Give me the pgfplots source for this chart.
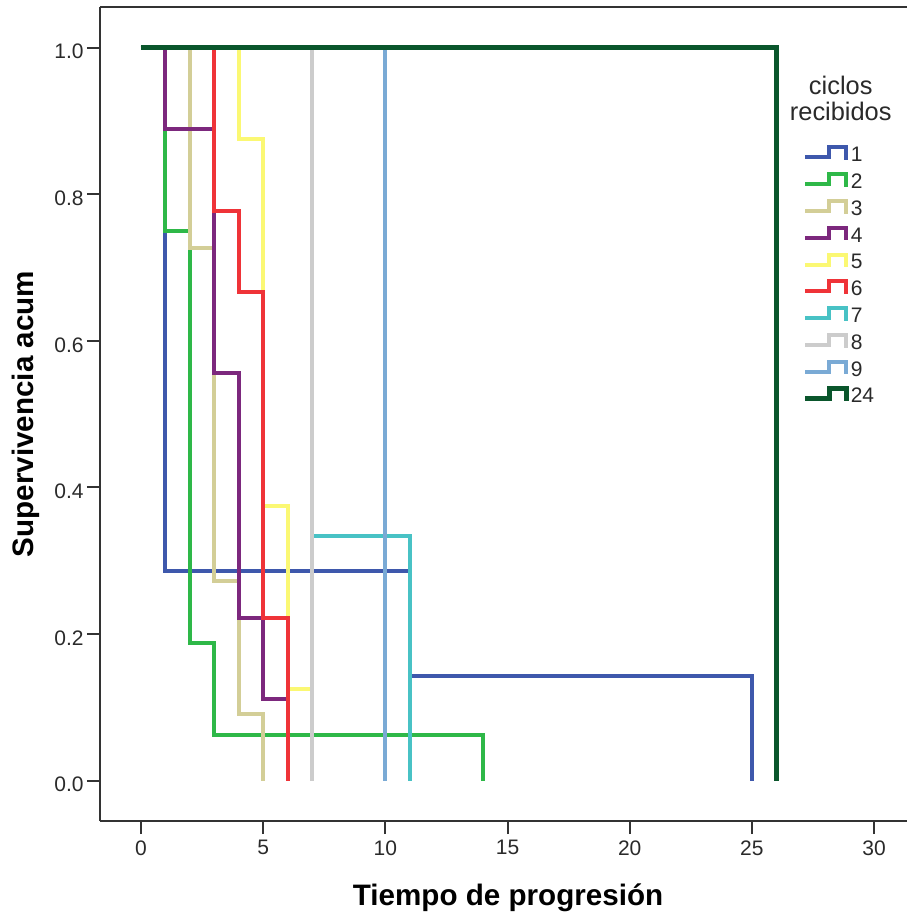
\documentclass[border=0pt]{standalone}
\usepackage{pgfplots}
\pgfplotsset{compat=1.18}
\usepackage{fontspec}
\setmainfont{Liberation Sans}

% group colours
\definecolor{g1}{HTML}{3E58AC}
\definecolor{g2}{HTML}{2EB848}
\definecolor{g3}{HTML}{D3CE97}
\definecolor{g4}{HTML}{7C287D}
\definecolor{g5}{HTML}{FBF873}
\definecolor{g6}{HTML}{EF3338}
\definecolor{g7}{HTML}{48C2C5}
\definecolor{g8}{HTML}{CCCCCC}
\definecolor{g9}{HTML}{7AAAD5}
\definecolor{g24}{HTML}{0A562C}
\definecolor{axisgray}{HTML}{333333}
\definecolor{labelgray}{HTML}{2A2A2A}

\begin{document}
\begin{tikzpicture}
\begin{axis}[
  scale only axis,
  width=403.5pt, height=407pt,
  xmin=-1.678, xmax=31.35,
  ymin=-0.055, ymax=1.0555,
  axis x line*=bottom, axis y line*=left,
  axis line style={line width=1pt, color=axisgray},
  tick align=outside,
  major tick length=6.5pt,
  tick style={line width=1pt, color=axisgray},
  xtick={0,5,10,15,20,25,30},
  xticklabels={0,5,10,15,20,25,30},
  ytick={0,0.2,0.4,0.6,0.8,1},
  yticklabels={0.0,0.2,0.4,0.6,0.8,1.0},
  ticklabel style={font=\fontsize{10.5}{12}\selectfont, text=labelgray, inner sep=0pt},
  yticklabel style={anchor=east, xshift=-1.5pt, yshift=-2pt},
  xticklabel style={anchor=north, yshift=-3pt},
  xlabel={Tiempo de progresión},
  ylabel={Supervivencia acum},
  xlabel style={font=\bfseries\fontsize{14.8}{16}\selectfont,
    at={(axis description cs:0.5056,-0.1032)}, anchor=base},
  ylabel style={font=\bfseries\fontsize{14.8}{16}\selectfont,
    at={(axis description cs:-0.0830,0.5)}, anchor=base},
  clip=false,
  legend style={at={(axis description cs:0.8711,0.8356)}, anchor=north west,
    draw=none, fill=none, inner sep=0pt, outer sep=0pt,
    row sep=0pt, column sep=1pt,
    nodes={inner sep=0pt, text height=10.45pt, text depth=2.95pt,
      font=\fontsize{10.5}{12}\selectfont, text=labelgray}},
  legend cell align=left,
  legend image code/.code={%
    \draw[#1] (0pt,-1.55pt) -- (12pt,-1.55pt) -- (12pt,3.45pt)
      -- (20.5pt,3.45pt) -- (20.5pt,-2.9pt);},
  every axis plot/.append style={const plot, line width=2pt, line join=miter},
]
% Kaplan-Meier estimates by number of cycles received
\addplot[g1] coordinates {(0,1) (1,0.2857) (11,0.1429) (25,0)};
\addlegendentry{1}
\addplot[g2] coordinates {(0,1) (1,0.75) (2,0.1875) (3,0.0625) (14,0)};
\addlegendentry{2}
\addplot[g3] coordinates {(0,1) (2,0.7273) (3,0.2727) (4,0.0909) (5,0)};
\addlegendentry{3}
\addplot[g4] coordinates {(0,1) (1,0.8889) (3,0.5556) (4,0.2222) (5,0.1111) (6,0)};
\addlegendentry{4}
\addplot[g5] coordinates {(0,1) (4,0.875) (5,0.375) (6,0.125) (7,0)};
\addlegendentry{5}
\addplot[g6] coordinates {(0,1) (3,0.7778) (4,0.6667) (5,0.2222) (6,0)};
\addlegendentry{6}
\addplot[g7] coordinates {(0,1) (7,0.3333) (11,0)};
\addlegendentry{7}
\addplot[g8] coordinates {(0,1) (7,0)};
\addlegendentry{8}
\addplot[g9] coordinates {(0,1) (10,0)};
\addlegendentry{9}
\addplot[g24, line width=2.4pt] coordinates {(0,1) (26,0)};
\addlegendentry{24}
% legend title
\node[anchor=base, font=\fontsize{12.7}{14}\selectfont, text=labelgray]
  at (axis description cs:0.9179,0.8919) {ciclos};
\node[anchor=base, font=\fontsize{12.7}{14}\selectfont, text=labelgray]
  at (axis description cs:0.9179,0.8603) {recibidos};
\end{axis}
% top edge of the frame
\draw[axisgray, line width=1pt] (current axis.north west) -- (current axis.north east);
\pgfresetboundingbox
\useasboundingbox ([shift={(-50pt,-47pt)}]current axis.south west)
  rectangle ([shift={(0pt,3.5pt)}]current axis.north east);
\end{tikzpicture}
\end{document}
